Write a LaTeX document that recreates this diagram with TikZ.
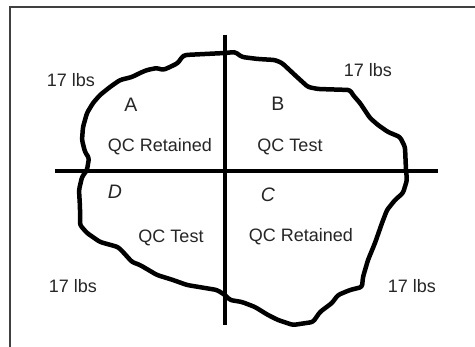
\documentclass[tikz,border=0pt]{standalone}
\usepackage{fontspec}
\setmainfont{Liberation Sans}
\begin{document}
\begin{tikzpicture}[x=1pt,y=-1pt,
  lbl/.style={inner sep=0pt,anchor=center,text=black!85,font=\fontsize{18}{20}\selectfont},
  letter/.style={lbl,font=\fontsize{19.5}{22}\selectfont},
  qlbl/.style={lbl,font=\fontsize{19.5}{22}\selectfont\itshape},
  heavy/.style={line width=4pt,black},
  blob/.style={line width=4.5pt,black,line join=round,rounded corners=2.5pt},
  frame/.style={line width=1.5pt,black!75}]
\useasboundingbox (0,0) rectangle (475,347);
\fill[white] (0,0) rectangle (475,347);
% frame
\coordinate (fbl) at (10,347);
\coordinate (ftl) at (10,7);
\coordinate (ftr) at (475,7);
\draw[frame] (fbl) -- (ftl) -- (ftr);
% blob outline
\draw[blob] (185,55) -- (225,53) -- (235,52) -- (242,57) -- (258,59) -- (275,60) -- (282,63)
 -- (297,77) -- (308,87) -- (318,89) -- (350,90) -- (353,95) -- (360,103) -- (370,118)
 -- (378,125) -- (388,132) -- (400,137) -- (405,147) -- (406,170) -- (407,180) -- (403,193)
 -- (395,200) -- (387,210) -- (382,223) -- (375,243) -- (368,260) -- (363,277) -- (362,287)
 -- (350,290) -- (338,295) -- (332,303) -- (320,312) -- (313,322) -- (293,325) -- (278,320)
 -- (268,315) -- (255,307) -- (242,302) -- (230,300) -- (225,295) -- (217,290) -- (187,285)
 -- (173,280) -- (157,275) -- (140,265) -- (132,262) -- (123,252) -- (118,247) -- (100,242)
 -- (87,233) -- (80,225) -- (80,207) -- (79,190) -- (82,177) -- (87,170) -- (89,158)
 -- (85,152) -- (82,140) -- (83,127) -- (87,113) -- (93,103) -- (100,95) -- (110,87)
 -- (120,80) -- (132,77) -- (140,73) -- (147,70) -- (157,68) -- (163,70) -- (170,67)
 -- (178,63) -- (182,57) -- cycle;
% cross lines
\coordinate (hl) at (55,171.5);
\coordinate (hr) at (438,171.5);
\coordinate (vt) at (225,35);
\coordinate (vb) at (225,325);
\draw[heavy] (hl) -- (hr);
\draw[heavy] (vt) -- (vb);
% labels
\node[lbl] (w1) at (71,80) {17 lbs};
\node[lbl] (w2) at (368,70) {17 lbs};
\node[lbl] (w3) at (73,286) {17 lbs};
\node[lbl] (w4) at (412,286) {17 lbs};
\node[letter] (qa) at (131,105) {A};
\node[letter] (qb) at (278,104) {B};
\node[qlbl] (qc) at (268,195) {C};
\node[qlbl] (qd) at (115,192) {D};
\node[lbl] (ta) at (160,147) {QC Retained};
\node[lbl] (tb) at (290,147) {QC Test};
\node[lbl] (td) at (171,238) {QC Test};
\node[lbl] (tc) at (301,237) {QC Retained};
\end{tikzpicture}
\end{document}
